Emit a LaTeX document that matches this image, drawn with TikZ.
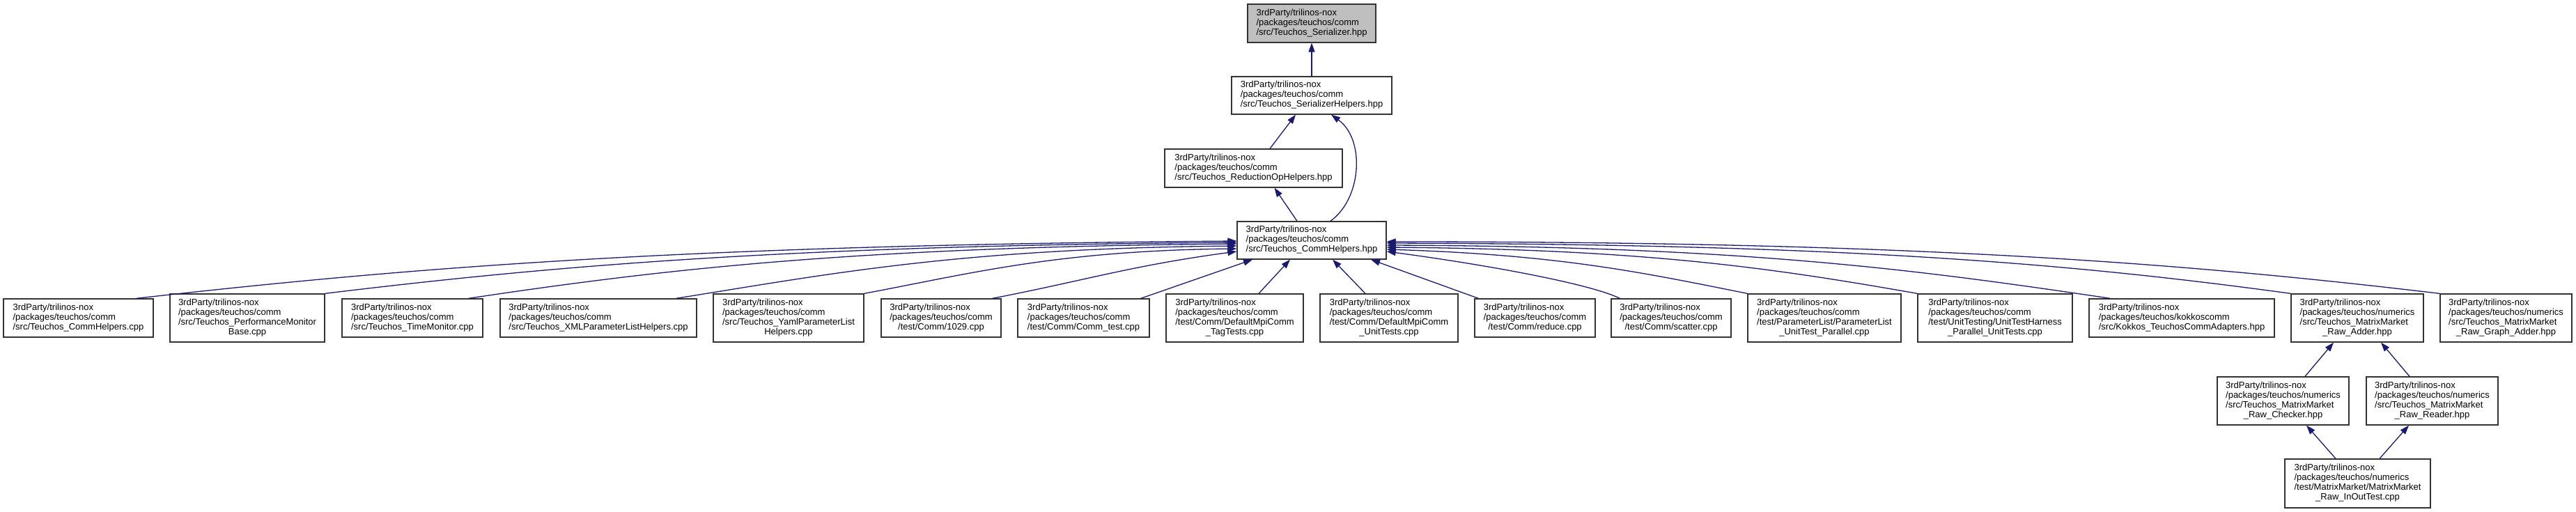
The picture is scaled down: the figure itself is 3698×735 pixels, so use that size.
\documentclass[tikz,border=0pt]{standalone}
\usepackage{fontspec}
\setmainfont{Liberation Sans}
\usetikzlibrary{arrows.meta,calc}
\definecolor{edgec}{HTML}{191970}
\definecolor{rootfill}{HTML}{BFBFBF}
\definecolor{boxline}{HTML}{333333}
\newcommand\lbl[2]{\begin{tabular}{@{}l@{}}#1\\\multicolumn{1}{@{}c@{}}{#2}\end{tabular}}
\newcommand\tcpre{3rdParty/trilinos-nox\\/packages/teuchos/comm}
\newcommand\tnpre{3rdParty/trilinos-nox\\/packages/teuchos/numerics}
\begin{document}
\begin{tikzpicture}[x=1pt,y=-1pt,
  box/.style={draw=boxline, line width=1.3pt, fill=white, inner sep=2pt,
    font=\fontsize{13}{14}\selectfont, minimum height=55pt},
  boxf/.style={box, minimum height=69pt},
  edge/.style={draw=edgec, line width=1.3pt, {Triangle[length=13pt,width=9pt]}-}]
\useasboundingbox (0,0) rectangle (3698,735);
% top chain
\node[box, fill=rootfill, minimum width=184] (T) at (1883,33.5) {\lbl{\tcpre}{/src/Teuchos\_Serializer.hpp}};
\node[box, minimum width=230, minimum height=54] (SH) at (1883,137) {\lbl{\tcpre}{/src/Teuchos\_SerializerHelpers.hpp}};
\node[box, minimum width=255] (ROH) at (1799.5,241.5) {\lbl{\tcpre}{/src/Teuchos\_ReductionOpHelpers.hpp}};
\node[box, minimum width=214, minimum height=54] (CH) at (1883,345) {\lbl{\tcpre}{/src/Teuchos\_CommHelpers.hpp}};
% bottom row
\node[box, minimum width=215] (b1) at (112.5,456.5) {\lbl{\tcpre}{/src/Teuchos\_CommHelpers.cpp}};
\node[boxf, minimum width=222] (b2) at (355,456.5) {\lbl{\tcpre\\/src/Teuchos\_PerformanceMonitor}{Base.cpp}};
\node[box, minimum width=202] (b3) at (592,456.5) {\lbl{\tcpre}{/src/Teuchos\_TimeMonitor.cpp}};
\node[box, minimum width=282] (b4) at (859,456.5) {\lbl{\tcpre}{/src/Teuchos\_XMLParameterListHelpers.cpp}};
\node[boxf, minimum width=216] (b5) at (1132,456.5) {\lbl{\tcpre\\/src/Teuchos\_YamlParameterList}{Helpers.cpp}};
\node[box, minimum width=172] (b6) at (1351,456.5) {\lbl{\tcpre}{/test/Comm/1029.cpp}};
\node[box, minimum width=189] (b7) at (1555.5,456.5) {\lbl{\tcpre}{/test/Comm/Comm\_test.cpp}};
\node[boxf, minimum width=197] (b8) at (1772.5,456.5) {\lbl{\tcpre\\/test/Comm/DefaultMpiComm}{\_TagTests.cpp}};
\node[boxf, minimum width=198] (b9) at (1994,456.5) {\lbl{\tcpre\\/test/Comm/DefaultMpiComm}{\_UnitTests.cpp}};
\node[box, minimum width=173] (b10) at (2203.5,456.5) {\lbl{\tcpre}{/test/Comm/reduce.cpp}};
\node[box, minimum width=172] (b11) at (2399,456.5) {\lbl{\tcpre}{/test/Comm/scatter.cpp}};
\node[boxf, minimum width=220] (b12) at (2619,456.5) {\lbl{\tcpre\\/test/ParameterList/ParameterList}{\_UnitTest\_Parallel.cpp}};
\node[boxf, minimum width=222] (b13) at (2864,456.5) {\lbl{\tcpre\\/test/UnitTesting/UnitTestHarness}{\_Parallel\_UnitTests.cpp}};
\node[box, minimum width=266] (b14) at (3132,456.5) {\lbl{3rdParty/trilinos-nox\\/packages/teuchos/kokkoscomm}{/src/Kokkos\_TeuchosCommAdapters.hpp}};
\node[boxf, minimum width=190] (b15) at (3384,456.5) {\lbl{\tnpre\\/src/Teuchos\_MatrixMarket}{\_Raw\_Adder.hpp}};
\node[boxf, minimum width=189] (b16) at (3597.5,456.5) {\lbl{\tnpre\\/src/Teuchos\_MatrixMarket}{\_Raw\_Graph\_Adder.hpp}};
\node[boxf, minimum width=189] (ck) at (3277.5,575.5) {\lbl{\tnpre\\/src/Teuchos\_MatrixMarket}{\_Raw\_Checker.hpp}};
\node[boxf, minimum width=189] (rd) at (3491.5,575.5) {\lbl{\tnpre\\/src/Teuchos\_MatrixMarket}{\_Raw\_Reader.hpp}};
\node[boxf, minimum width=209, minimum height=70] (io) at (3384.5,694) {\lbl{\tnpre\\/test/MatrixMarket/MatrixMarket}{\_Raw\_InOutTest.cpp}};
% top edges
\draw[edge] (T.south) -- (SH.north);
\draw[edge] ($(SH.south)+(-23,0)$) -- ($(ROH.north)+(23.5,0)$);
\draw[edge] ($(SH.south)+(28,0)$) .. controls (1960,200) and (1955,285) .. ($(CH.north)+(27,0)$);
\draw[edge] ($(ROH.south)+(30,0)$) -- ($(CH.north)+(-21,0)$);
% left side of CH
\draw[edge] ($(CH.west)+(0,1)$) .. controls +(-790,6) and +(400,-45) .. ($(b1.north east)+(-25,0)$);
\draw[edge] ($(CH.west)+(0,3)$) .. controls +(-650,5) and +(330,-40) .. (b2.north east);
\draw[edge] ($(CH.west)+(0,5)$) .. controls +(-550,5) and +(280,-42) .. ($(b3.north east)+(-21,0)$);
\draw[edge] ($(CH.west)+(0,8)$) .. controls +(-400,4) and +(220,-35) .. ($(b4.north east)+(-30,0)$);
\draw[edge] ($(CH.west)+(0,12)$) .. controls +(-260,3) and +(150,-28) .. (b5.north east);
\draw[edge] ($(CH.west)+(0,16)$) .. controls +(-150,20) and +(130,-25) .. ($(b6.north east)+(-13,0)$);
% bottom of CH
\draw[edge] ($(CH.south)+(-85,0)$) -- ($(b7.north east)+(-13,0)$);
\draw[edge] ($(CH.south)+(-31,0)$) -- ($(b8.north)+(34.5,0)$);
\draw[edge] ($(CH.south)+(30,0)$) -- ($(b9.north)+(-34,0)$);
\draw[edge] ($(CH.south)+(85,0)$) -- ($(b10.north west)+(6,0)$);
% right side of CH
\draw[edge] ($(CH.east)+(0,16)$) .. controls +(150,20) and +(-40,-20) .. ($(b11.north west)+(13,0)$);
\draw[edge] ($(CH.east)+(0,13)$) .. controls +(250,8) and +(-150,-30) .. (b12.north west);
\draw[edge] ($(CH.east)+(0,10)$) .. controls +(380,3) and +(-200,-35) .. (b13.north west);
\draw[edge] ($(CH.east)+(0,7)$) .. controls +(520,2) and +(-270,-40) .. ($(b14.north west)+(31,0)$);
\draw[edge] ($(CH.east)+(0,4)$) .. controls +(650,2) and +(-330,-45) .. (b15.north west);
\draw[edge] ($(CH.east)+(0,2)$) .. controls +(750,0) and +(-380,-45) .. (b16.north west);
% matrix market
\draw[edge] ($(b15.south)+(-34,0)$) -- ($(ck.north)+(31.5,0)$);
\draw[edge] ($(b15.south)+(34,0)$) -- ($(rd.north)+(-32.5,0)$);
\draw[edge] ($(ck.south)+(33.5,0)$) -- ($(io.north)+(-31.5,0)$);
\draw[edge] ($(rd.south)+(-33.5,0)$) -- ($(io.north)+(31.5,0)$);
\end{tikzpicture}
\end{document}
